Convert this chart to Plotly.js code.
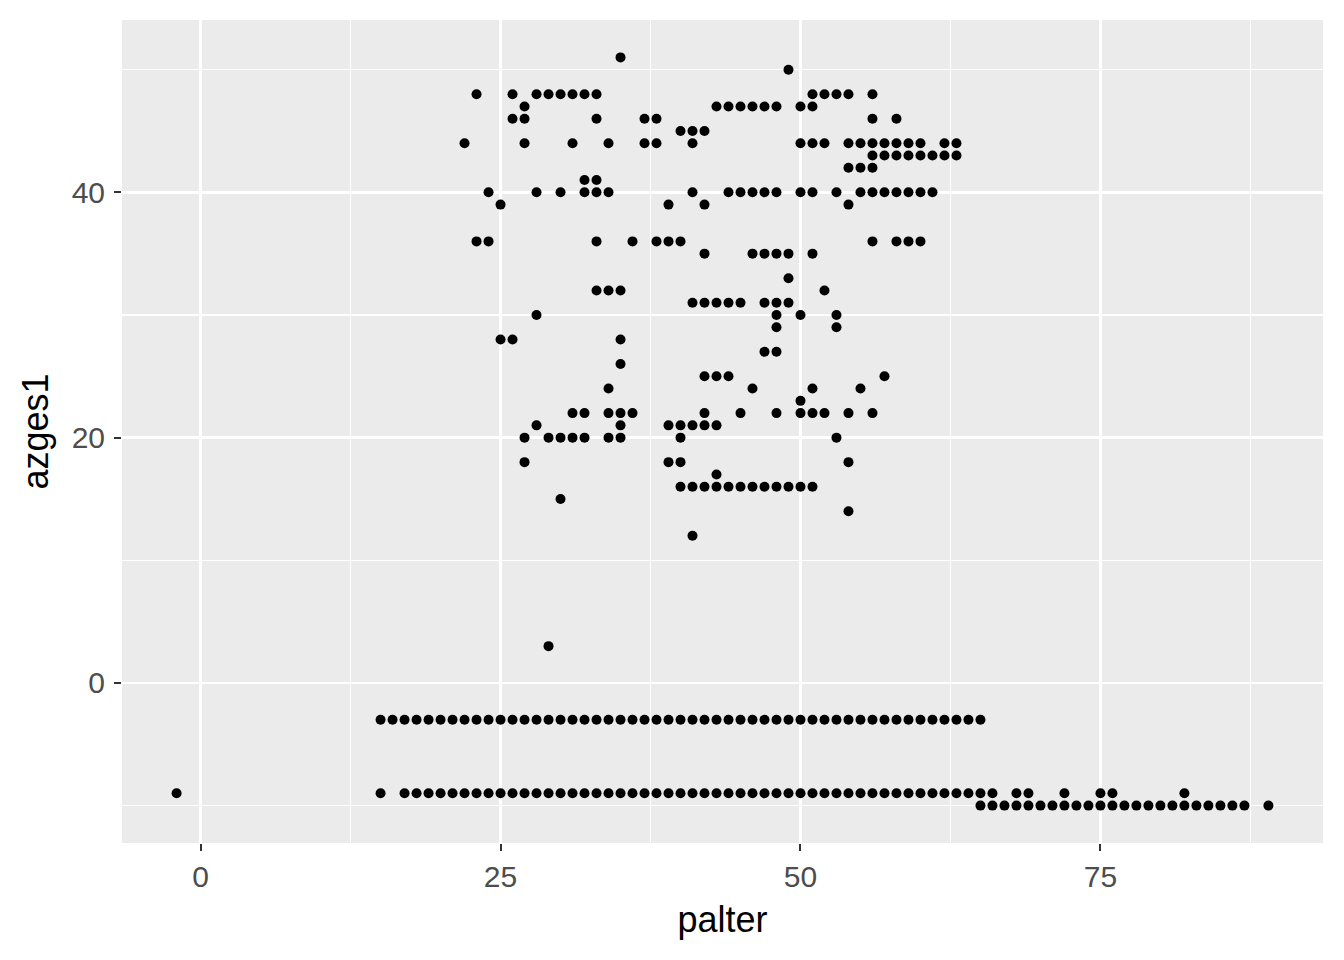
<!DOCTYPE html>
<html>
<head>
<meta charset="utf-8">
<script src="https://cdn.plot.ly/plotly-3.0.1.min.js"></script>
<style>
  html, body { margin: 0; padding: 0; background: #ffffff; }
  #chart { width: 1344px; height: 960px; }
</style>
</head>
<body>
<div id="chart"></div>
<script>
// azges1 levels and the palter values observed at each level
const azgesLevels = [51, 50, 48, 47, 46, 45, 44, 43, 42, 41, 40, 39, 36, 35, 33, 32, 31, 30, 29, 28, 27, 26, 25, 24, 23, 22, 21, 20, 18, 17, 16, 15, 14, 12, 3, -3, -9, -10];
const palterAtLevel = [
  [35],
  [49],
  [23, 26, 28, 29, 30, 31, 32, 33, 51, 52, 53, 54, 56],
  [27, 43, 44, 45, 46, 47, 48, 50, 51],
  [26, 27, 33, 37, 38, 56, 58],
  [40, 41, 42],
  [22, 27, 31, 34, 37, 38, 41, 50, 51, 52, 54, 55, 56, 57, 58, 59, 60, 62, 63],
  [56, 57, 58, 59, 60, 61, 62, 63],
  [54, 55, 56],
  [32, 33],
  [24, 28, 30, 32, 33, 34, 41, 44, 45, 46, 47, 48, 50, 51, 53, 55, 56, 57, 58, 59, 60, 61],
  [25, 39, 42, 54],
  [23, 24, 33, 36, 38, 39, 40, 56, 58, 59, 60],
  [42, 46, 47, 48, 49, 51],
  [49],
  [33, 34, 35, 52],
  [41, 42, 43, 44, 45, 47, 48, 49],
  [28, 48, 50, 53],
  [48, 53],
  [25, 26, 35],
  [47, 48],
  [35],
  [42, 43, 44, 57],
  [34, 46, 51, 55],
  [50],
  [31, 32, 34, 35, 36, 42, 45, 48, 50, 51, 52, 54, 56],
  [28, 35, 39, 40, 41, 42, 43],
  [27, 29, 30, 31, 32, 34, 35, 40, 53],
  [27, 39, 40, 54],
  [43],
  [40, 41, 42, 43, 44, 45, 46, 47, 48, 49, 50, 51],
  [30],
  [54],
  [41],
  [29],
  [15, 16, 17, 18, 19, 20, 21, 22, 23, 24, 25, 26, 27, 28, 29, 30, 31, 32, 33, 34, 35, 36, 37, 38, 39, 40, 41, 42, 43, 44, 45, 46, 47, 48, 49, 50, 51, 52, 53, 54, 55, 56, 57, 58, 59, 60, 61, 62, 63, 64, 65],
  [-2, 15, 17, 18, 19, 20, 21, 22, 23, 24, 25, 26, 27, 28, 29, 30, 31, 32, 33, 34, 35, 36, 37, 38, 39, 40, 41, 42, 43, 44, 45, 46, 47, 48, 49, 50, 51, 52, 53, 54, 55, 56, 57, 58, 59, 60, 61, 62, 63, 64, 65, 66, 68, 69, 72, 75, 76, 82],
  [65, 66, 67, 68, 69, 70, 71, 72, 73, 74, 75, 76, 77, 78, 79, 80, 81, 82, 83, 84, 85, 86, 87, 89]
];
const xTickVals = [0, 25, 50, 75];
const yTickVals = [0, 20, 40];

const palter = [];
const azges1 = [];
azgesLevels.forEach((lvl, i) => {
  palterAtLevel[i].forEach(p => { palter.push(p); azges1.push(lvl); });
});

// ggplot-style 5% expansion of the data range
function expand(arr) {
  const mn = Math.min(...arr), mx = Math.max(...arr);
  const d = (mx - mn) * 0.05;
  return [mn - d, mx + d];
}

const trace = {
  type: 'scatter',
  mode: 'markers',
  x: palter,
  y: azges1,
  marker: { color: '#000000', size: 10, line: { width: 0 } },
  hoverinfo: 'x+y'
};

const font = 'Liberation Sans, Arial, sans-serif';
const layout = {
  width: 1344,
  height: 960,
  margin: { l: 122, r: 21, t: 20, b: 117 },
  paper_bgcolor: '#ffffff',
  plot_bgcolor: '#EBEBEB',
  showlegend: false,
  xaxis: {
    range: expand(palter),
    tickvals: xTickVals,
    ticktext: xTickVals.map(String),
    showgrid: true,
    gridcolor: '#ffffff',
    gridwidth: 2.4,
    minor: { dtick: 12.5, tick0: 12.5, showgrid: true, gridcolor: '#ffffff', gridwidth: 1.2, ticks: '' },
    zeroline: false,
    showline: false,
    ticks: 'outside',
    ticklen: 7,
    tickwidth: 2,
    tickcolor: '#333333',
    tickfont: { family: font, size: 30, color: '#4D4D4D' },
    title: { text: 'palter', font: { family: font, size: 36, color: '#000000' }, standoff: 14 },
    automargin: false,
    fixedrange: true
  },
  yaxis: {
    range: expand(azges1),
    tickvals: yTickVals,
    ticktext: yTickVals.map(String),
    showgrid: true,
    gridcolor: '#ffffff',
    gridwidth: 2.4,
    minor: { dtick: 20, tick0: -10, showgrid: true, gridcolor: '#ffffff', gridwidth: 1.2, ticks: '' },
    zeroline: false,
    showline: false,
    ticks: 'outside',
    ticklen: 7,
    tickwidth: 2,
    tickcolor: '#333333',
    ticklabelstandoff: 3,
    tickfont: { family: font, size: 30, color: '#4D4D4D' },
    title: { text: 'azges1', font: { family: font, size: 36, color: '#000000' }, standoff: 12 },
    automargin: false,
    fixedrange: true
  }
};

Plotly.newPlot('chart', [trace], layout, { displayModeBar: false, staticPlot: true });
</script>
</body>
</html>
